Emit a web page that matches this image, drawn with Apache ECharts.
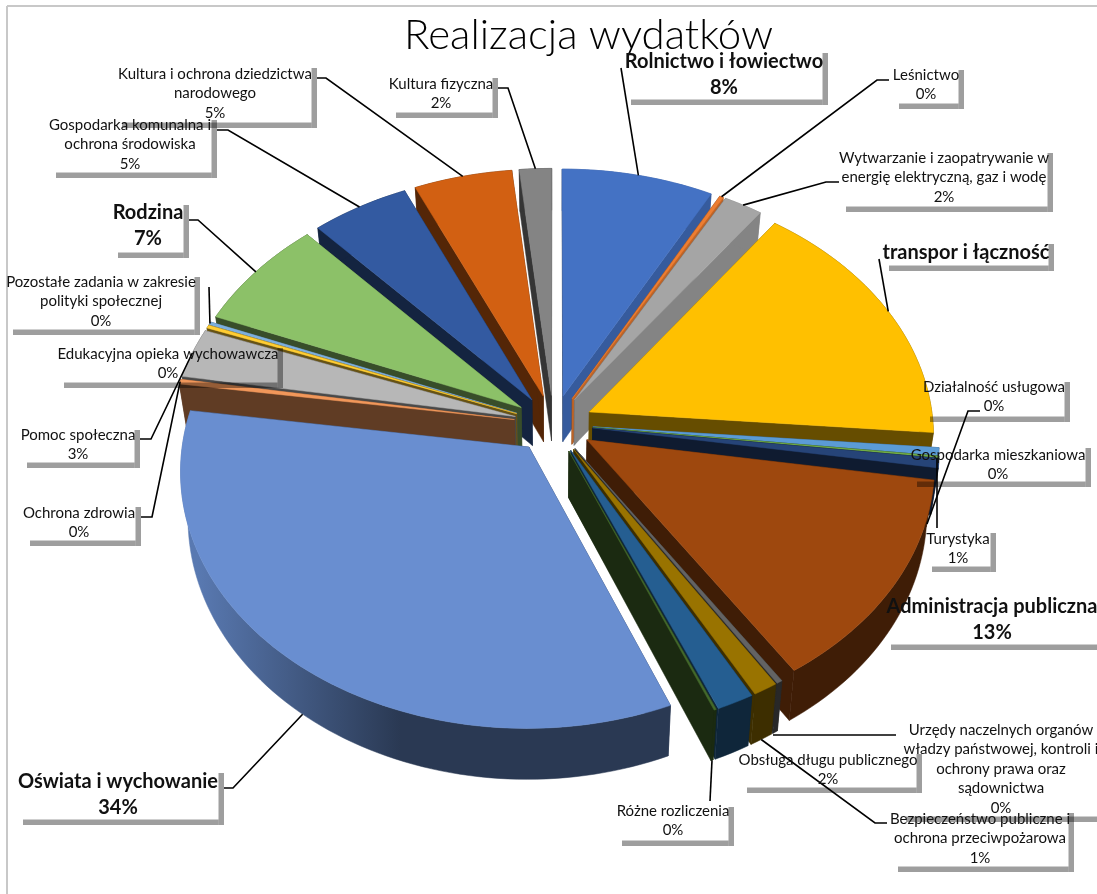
<!DOCTYPE html>
<html>
<head>
<meta charset="utf-8">
<title>Realizacja wydatków</title>
<script src="https://cdn.jsdelivr.net/npm/echarts@6/dist/echarts.min.js"></script>
<style>
  html, body { margin: 0; padding: 0; background: #fff; }
  #main { width: 1097px; height: 894px; }
</style>
</head>
<body>
<div id="main"></div>
<script>
var categories = [
  'Rolnictwo i łowiectwo', 'Leśnictwo',
  'Wytwarzanie i zaopatrywanie w\nenergię elektryczną, gaz i wodę',
  'transpor i łączność', 'Działalność usługowa', 'Gospodarka mieszkaniowa', 'Turystyka',
  'Administracja publiczna',
  'Urzędy naczelnych organów\nwładzy państwowej, kontroli i\nochrony prawa oraz\nsądownictwa',
  'Bezpieczeństwo publiczne i\nochrona przeciwpożarowa',
  'Obsługa długu publicznego', 'Różne rozliczenia', 'Oświata i wychowanie', 'Ochrona zdrowia',
  'Pomoc społeczna', 'Edukacyjna opieka wychowawcza',
  'Pozostałe zadania w zakresie\npolityki społecznej', 'Rodzina',
  'Gospodarka komunalna i\nochrona środowiska', 'Kultura i ochrona dziedzictwa\nnarodowego',
  'Kultura fizyczna'
];
var values = [7.8, 0.2, 2, 16.3, 0.49, 0.1, 0.6, 13.3, 0.25, 1.05, 1.6, 0.1, 33.5, 0.3, 3.15, 0.2, 0.2, 7.1, 5.05, 5.05, 1.65];
var percentLabels = ['8%', '0%', '2%', '', '0%', '0%', '1%', '13%', '0%', '1%', '2%', '0%', '34%', '0%', '3%', '0%', '0%', '7%', '5%', '5%', '2%'];
var colors = [
  '#4472C4', '#ED7D31', '#A5A5A5', '#FFC000', '#5B9BD5', '#70AD47', '#264478', '#9E480E', '#636363', '#997300', '#255E91',
  '#43682B', '#698ED0', '#F1975A', '#B7B7B7', '#FFCD33', '#7CAFDD', '#8CC168', '#335AA1', '#D26012', '#848484'
];

// label boxes: text centre x, first line centre y, shadow box [left, top, right, bottom], leader points
var LABEL_FONT = 'Lato';
var callouts = [
  { x: 724, y: 62, box: [631, 53, 828, 105], bold: true, leader: [[621, 68]], pin: 0 },
  { x: 926, y: 75, box: [899, 70, 964, 109], leader: [[889, 80], [877, 80]], pin: 0 },
  { x: 944, y: 158, box: [846, 153, 1053, 212], leader: [[839, 182], [826, 182]], pin: 0 },
  { x: 966, y: 253, box: [889, 244, 1054, 271], bold: true, leader: [[879, 259]], pin: 0 },
  { x: 994, y: 387, box: [930, 382, 1070, 422], leader: [[980, 411], [968, 411], [927, 524]] },
  { x: 998, y: 455, box: [917, 448, 1091, 487] },
  { x: 958, y: 539, box: [932, 533, 996, 572], leader: [[937, 528], [937, 458]] },
  { x: 992, y: 607, box: [891, 595, 1110, 650], bold: true },
  { x: 1001, y: 730, box: [906, 725, 1110, 822], leader: [[896, 735], [773, 735]] },
  { x: 980, y: 819, box: [898, 813, 1074, 872], leader: [[887, 823], [875, 823]], pin: 1 },
  { x: 828, y: 760, box: [747, 754, 922, 793] },
  { x: 673, y: 811, box: [622, 807, 734, 846], leader: [[710, 801]], pin: 1 },
  { x: 118, y: 782, box: [23, 773, 224, 825], bold: true, leader: [[224, 788], [233, 788]], pin: 1 },
  { x: 79, y: 513, box: [30, 507, 141, 546], leader: [[141, 517], [152, 517]], pin: 0 },
  { x: 78, y: 435, box: [27, 430, 140, 468], leader: [[140, 439], [151, 439]], pin: 0 },
  { x: 168, y: 354, box: [64, 348, 283, 388] },
  { x: 101, y: 282, box: [13, 277, 200, 335], leader: [[209, 287]], pin: 0 },
  { x: 148, y: 213, box: [118, 205, 189, 258], bold: true, leader: [[189, 220], [198, 220]], pin: 0 },
  { x: 130, y: 125, box: [56, 120, 217, 178], leader: [[217, 130], [228, 130]], pin: 0 },
  { x: 215, y: 74, box: [122, 68, 317, 128], leader: [[317, 78], [326, 78]], pin: 0 },
  { x: 441, y: 84, box: [396, 78, 498, 118], leader: [[498, 88], [508, 88]], pin: 0 }
];

// pie geometry: a tilted disc seen in perspective
var CX = 553.5, CY = 424, RADIUS = 344, FLAT = 252, PERSP = 0.089, DEPTH = 46, EXPLODE = 0.115;

var total = values.reduce(function (a, b) { return a + b; }, 0);
var angles = [], running = 0;
values.forEach(function (v) {
  angles.push([running / total * 360, (running + v) / total * 360]);
  running += v;
});

function toRad(d) { return d * Math.PI / 180; }

function point(i, t, r, drop) {
  var m = toRad((angles[i][0] + angles[i][1]) / 2);
  var u = EXPLODE * Math.sin(m) + r * Math.sin(toRad(t));
  var v = -EXPLODE * Math.cos(m) - r * Math.cos(toRad(t));
  var s = 1 / (1 - PERSP * v);
  var shrink = 1 - 0.02 * drop;
  return [CX + u * s * RADIUS * shrink, CY + v * s * FLAT + drop * DEPTH * s];
}

function shade(hex, f) {
  var n = parseInt(hex.slice(1), 16);
  var c = [(n >> 16) & 255, (n >> 8) & 255, n & 255].map(function (x) { return Math.round(x * f); });
  return 'rgb(' + c.join(',') + ')';
}

function poly(points, fill, z2) {
  return { type: 'polygon', z2: z2, silent: true, shape: { points: points }, style: { fill: fill, stroke: fill, lineWidth: 0.5 } };
}

// far slices are painted first
var drawOrder = values.map(function (v, i) { return i; }).sort(function (a, b) {
  var ma = toRad((angles[a][0] + angles[a][1]) / 2), mb = toRad((angles[b][0] + angles[b][1]) / 2);
  return Math.cos(mb) - Math.cos(ma);
});

function outerFill(i, a0, a1, col) {
  if (a1 < 60) return shade(col, 0.8);
  if (a0 < 200 && a1 > 200 && a1 < 300) {
    // the big front slice gets lighter towards its left end
    var xa = point(i, a1, 1, 1)[0], xb = point(i, 200, 1, 1)[0];
    return new echarts.graphic.LinearGradient(xa, 0, xb, 0, [
      { offset: 0, color: shade(col, 0.85) },
      { offset: 1, color: shade(col, 0.4) }
    ], true);
  }
  return shade(col, 0.4);
}

function renderSlice(params, api) {
  var i = api.value(0), rank = drawOrder.indexOf(i) * 100;
  var a0 = angles[i][0], a1 = angles[i][1], col = colors[i];
  var children = [];
  // radial walls
  [[a0, a0 - 90], [a1, a1 + 90]].forEach(function (w) {
    var n = (w[1] + 360) % 360;
    var f = n > 90 && n < 150 ? 0.8 : 0.4;
    children.push(poly([point(i, 0, 0, 0), point(i, w[0], 1, 0), point(i, w[0], 1, 1), point(i, 0, 0, 1)], shade(col, f), rank));
  });
  // outer wall and top face
  var steps = Math.max(2, Math.ceil((a1 - a0) / 1.5));
  var top = [point(i, 0, 0, 0)], upper = [], lower = [];
  for (var j = 0; j <= steps; j++) {
    var t = a0 + (a1 - a0) * j / steps;
    upper.push(point(i, t, 1, 0));
    lower.unshift(point(i, t, 1, 1));
  }
  children.push(poly(upper.concat(lower), outerFill(i, a0, a1, col), rank + 1));
  children.push(poly(top.concat(upper), col, rank + 2));
  return { type: 'group', children: children };
}

// callouts: shadow bars, leaders and text
var elements = [
  { type: 'line', z: 5, shape: { x1: 7, y1: 6, x2: 1097, y2: 6 }, style: { stroke: '#c8c8c8', lineWidth: 2 } },
  { type: 'line', z: 5, shape: { x1: 7, y1: 6, x2: 7, y2: 894 }, style: { stroke: '#c8c8c8', lineWidth: 2 } }
];
callouts.forEach(function (c, i) {
  var b = c.box;
  var bar = 5.5, barFill = 'rgba(0,0,0,0.38)';
  elements.push({ type: 'rect', z: 10, shape: { x: b[0], y: b[3] - bar, width: b[2] - b[0] - bar, height: bar }, style: { fill: barFill } });
  elements.push({ type: 'rect', z: 10, shape: { x: b[2] - bar, y: b[1], width: bar, height: b[3] - b[1] }, style: { fill: barFill } });
  if (c.leader) {
    var pts = c.leader.slice();
    if (c.pin !== undefined) pts.push(point(i, (angles[i][0] + angles[i][1]) / 2, 1, c.pin));
    elements.push({ type: 'polyline', z: 11, shape: { points: pts }, style: { stroke: '#000', lineWidth: 1.6, fill: null } });
  }
  var lh = c.bold ? 26 : 19.5;
  var txt = categories[i] + (percentLabels[i] ? '\n' + percentLabels[i] : '');
  elements.push({
    type: 'text', z: 12,
    style: {
      text: txt, x: c.x, y: c.y - lh / 2, fill: '#111', align: 'center', verticalAlign: 'top', lineHeight: lh,
      fontFamily: LABEL_FONT, fontSize: c.bold ? 20 : 15, fontWeight: c.bold ? 'bold' : 'normal'
    }
  });
});

var chart = echarts.init(document.getElementById('main'), null, { renderer: 'canvas' });
chart.setOption({
  backgroundColor: '#fff',
  animation: false,
  title: {
    text: 'Realizacja wydatków', left: 399, top: 9,
    textStyle: { fontFamily: LABEL_FONT, fontSize: 42, fontWeight: 300, color: '#000' }
  },
  graphic: { elements: elements },
  series: [{
    type: 'custom',
    coordinateSystem: 'none',
    silent: true,
    renderItem: renderSlice,
    data: drawOrder.map(function (i) { return [i, values[i]]; })
  }]
});
</script>
</body>
</html>
